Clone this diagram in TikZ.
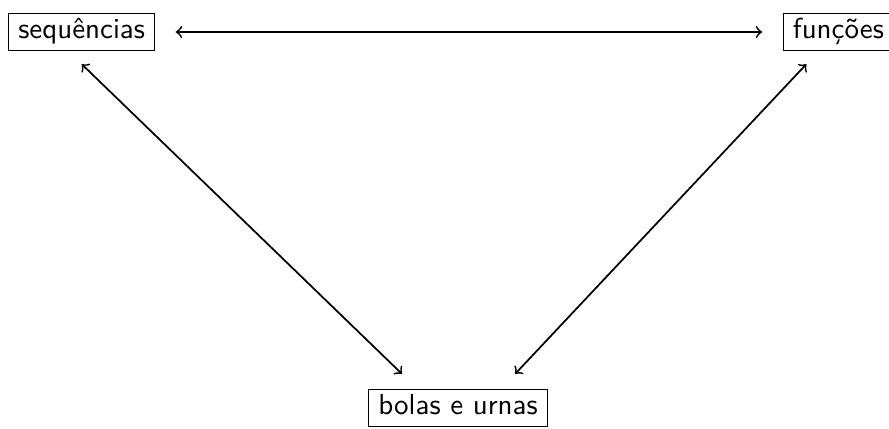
\documentclass[tikz,border=0pt]{standalone}
\usepackage{tikz}
\usetikzlibrary{calc}
\tikzset{
         termo/.style={draw=black,line width=.5pt,font=\sffamily,inner xsep=3.33pt,inner ysep=2pt,
                       text height=6.6pt,text depth=2.1pt},
         liga/.style={<->,>=to,line width=.6pt}
        }
\begin{document}
\begin{tikzpicture}[x=0.345pt,y=-0.345pt]
\useasboundingbox (0,0) rectangle (889,428); %frame
\node[termo,anchor=west] (seq) at (8,32){sequências};
\node[termo,anchor=west] (fun) at (782.5,32){funções};
\node[termo,anchor=north west] (bol) at (368,389){bolas e urnas};

%arrows
\draw[liga,shorten <=7pt,shorten >=7pt](seq)--(fun);
\draw[liga]($(seq.south)+(0,13)$)--($(bol.north)+(-56,-15)$);
\draw[liga]($(fun.south)+(-32,13)$)--($(bol.north)+(57,-15)$);
\end{tikzpicture}
\end{document}
